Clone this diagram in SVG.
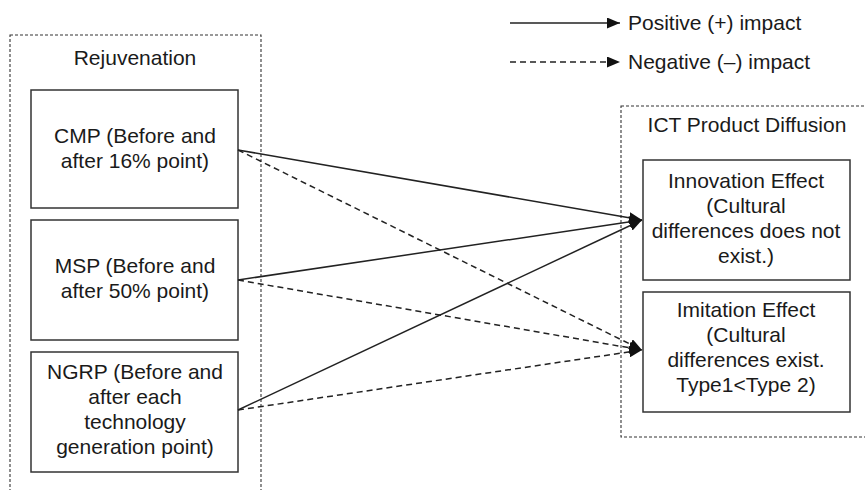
<svg xmlns="http://www.w3.org/2000/svg" width="865" height="490" viewBox="0 0 865 490">
<defs>
<style>
text{font-family:"Liberation Sans",Arial,Helvetica,sans-serif;font-size:21px;fill:#1a1a1a;}
.c{text-anchor:middle;}
.box{fill:#fff;stroke:#333;stroke-width:1.5;}
.grp{fill:none;stroke:#333;stroke-width:1.1;stroke-dasharray:3 2;}
.pos{fill:none;stroke:#222;stroke-width:1.5;marker-end:url(#ah);}
.neg{fill:none;stroke:#222;stroke-width:1.5;stroke-dasharray:6 4;marker-end:url(#ah);}
</style>
<marker id="ah" viewBox="0 0 13 11" refX="13" refY="5.5" markerWidth="13" markerHeight="11" markerUnits="userSpaceOnUse" orient="auto">
<path d="M0,0 L13,5.5 L0,11 Z" fill="#111"/>
</marker>
</defs>
<rect width="865" height="490" fill="#fff"/>
<g id="legend">
<line class="pos" x1="510" y1="23" x2="620" y2="23"/>
<text x="628" y="30">Positive (+) impact</text>
<line class="neg" x1="510" y1="62" x2="620" y2="62"/>
<text x="628" y="69">Negative (–) impact</text>
</g>
<g id="rejuvenation">
<rect class="grp" x="10" y="35" width="251" height="470"/>
<text class="c" x="135" y="65">Rejuvenation</text>
</g>
<g id="ict">
<rect class="grp" x="621" y="106" width="260" height="331"/>
<text class="c" x="747" y="132">ICT Product Diffusion</text>
</g>
<g id="cmp">
<rect class="box" x="31" y="90" width="207" height="118"/>
<text class="c" x="135" y="143">CMP (Before and</text>
<text class="c" x="135" y="168">after 16% point)</text>
</g>
<g id="msp">
<rect class="box" x="31" y="220" width="207" height="120"/>
<text class="c" x="135" y="273">MSP (Before and</text>
<text class="c" x="135" y="298">after 50% point)</text>
</g>
<g id="ngrp">
<rect class="box" x="31" y="352" width="207" height="120"/>
<text class="c" x="135" y="379">NGRP (Before and</text>
<text class="c" x="135" y="404">after each</text>
<text class="c" x="135" y="429">technology</text>
<text class="c" x="135" y="454">generation point)</text>
</g>
<g id="innovation">
<rect class="box" x="643" y="160" width="207" height="120"/>
<text class="c" x="746" y="188">Innovation Effect</text>
<text class="c" x="746" y="213">(Cultural</text>
<text class="c" x="746" y="238">differences does not</text>
<text class="c" x="746" y="263">exist.)</text>
</g>
<g id="imitation">
<rect class="box" x="643" y="292" width="207" height="120"/>
<text class="c" x="746" y="317">Imitation Effect</text>
<text class="c" x="746" y="342">(Cultural</text>
<text class="c" x="746" y="367">differences exist.</text>
<text class="c" x="746" y="392">Type1&lt;Type 2)</text>
</g>
<g id="connectors">
<line class="pos" x1="238" y1="150" x2="642" y2="220"/>
<line class="pos" x1="238" y1="280" x2="642" y2="220"/>
<line class="pos" x1="238" y1="410" x2="642" y2="220"/>
<line class="neg" x1="238" y1="150" x2="642" y2="350"/>
<line class="neg" x1="238" y1="280" x2="642" y2="350"/>
<line class="neg" x1="238" y1="410" x2="642" y2="350"/>
</g>
</svg>
